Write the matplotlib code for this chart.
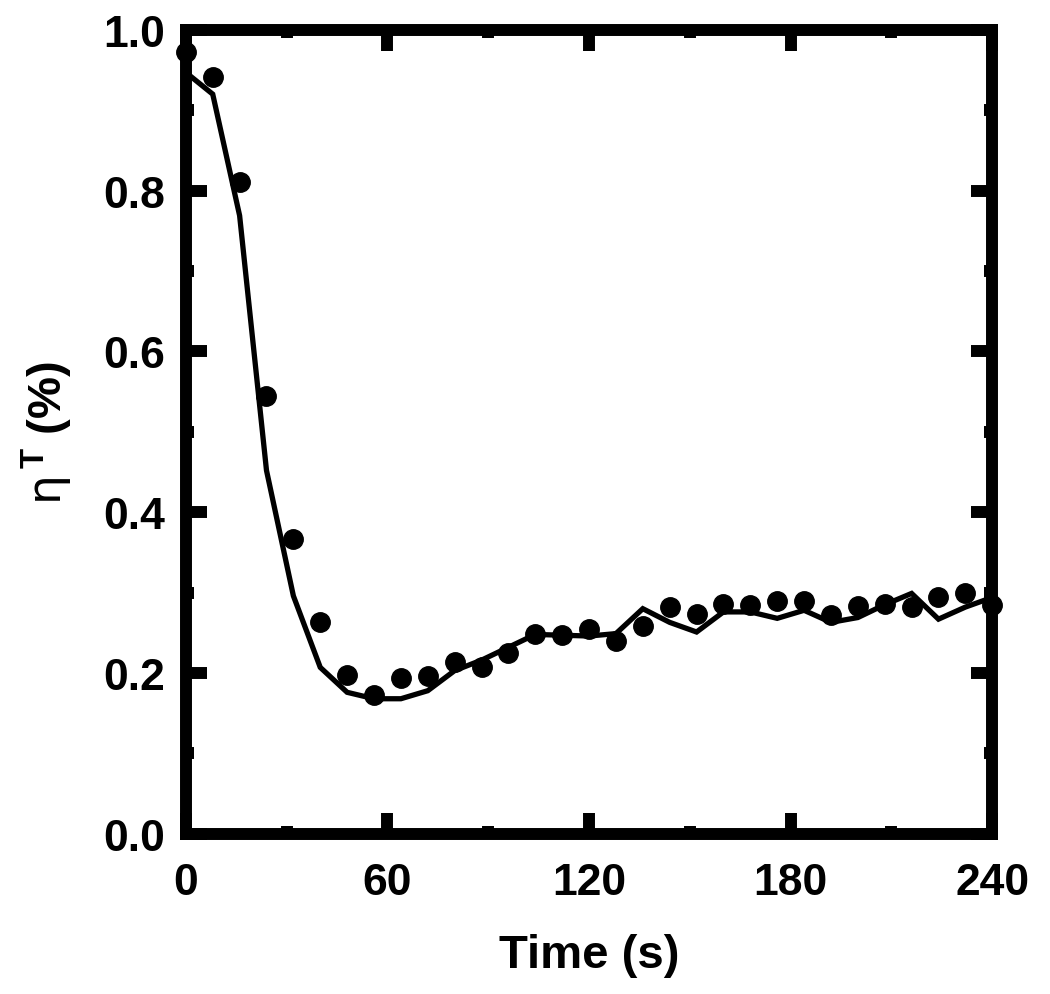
import matplotlib
matplotlib.use('Agg')
import matplotlib.pyplot as plt
from matplotlib.ticker import MultipleLocator

plt.rcParams['font.family'] = ['Liberation Sans', 'DejaVu Sans']
plt.rcParams['font.weight'] = 'bold'
plt.rcParams['mathtext.fontset'] = 'custom'
plt.rcParams['mathtext.rm'] = 'DejaVu Sans:weight=normal'
plt.rcParams['mathtext.bf'] = 'Liberation Sans:bold'

# measured points (dots), every 8 s
time_pts = [0, 8, 16, 24, 32, 40, 48, 56, 64, 72, 80, 88, 96, 104, 112, 120,
            128, 136, 144, 152, 160, 168, 176, 184, 192, 200, 208, 216, 224, 232, 240]
eta_pts = [0.973, 0.941, 0.811, 0.544, 0.367, 0.263, 0.197, 0.173, 0.194, 0.196,
           0.214, 0.207, 0.225, 0.248, 0.247, 0.255, 0.240, 0.259, 0.282, 0.273,
           0.286, 0.284, 0.290, 0.290, 0.272, 0.283, 0.286, 0.282, 0.295, 0.300, 0.284]

# model curve (solid line)
eta_fit = [0.947, 0.920, 0.769, 0.452, 0.296, 0.207, 0.176, 0.168, 0.168, 0.178,
           0.203, 0.216, 0.232, 0.248, 0.247, 0.246, 0.249, 0.280, 0.263, 0.251,
           0.276, 0.276, 0.268, 0.278, 0.263, 0.269, 0.285, 0.299, 0.267, 0.282, 0.294]

fig = plt.figure(figsize=(10.5, 9.95), dpi=100)
ax = fig.add_axes([0.177, 0.161, 0.768, 0.808])

ax.plot(time_pts, eta_fit, color='black', linewidth=3.8, solid_joinstyle='miter', zorder=2)
ax.plot(time_pts, eta_pts, 'o', color='black', markersize=14, clip_on=False, zorder=5)

ax.set_xlim(0, 240)
ax.set_ylim(0, 1.0)
ax.xaxis.set_major_locator(MultipleLocator(60))
ax.xaxis.set_minor_locator(MultipleLocator(30))
ax.yaxis.set_minor_locator(MultipleLocator(0.1))
ax.set_yticks([0, 0.2, 0.4, 0.6, 0.8, 1.0])
ax.set_yticklabels(['0.0', '0.2', '0.4', '0.6', '0.8', '1.0'])

for s in ax.spines.values():
    s.set_linewidth(8.6)
ax.tick_params(which='both', direction='in', top=True, right=True, width=8.6, labelsize=32)
ax.tick_params(which='major', length=15)
ax.tick_params(which='minor', length=6)
ax.tick_params(axis='x', which='major', pad=20)
ax.tick_params(axis='y', which='major', pad=15)

ax.set_xlabel('Time (s)', fontsize=34, fontweight='bold', labelpad=22)
ax.set_ylabel(r'$\mathrm{\eta}^{\,\mathbf{T}}$ (%)', fontsize=34, fontweight='bold', labelpad=20)

fig.savefig('out.png', dpi=100)
